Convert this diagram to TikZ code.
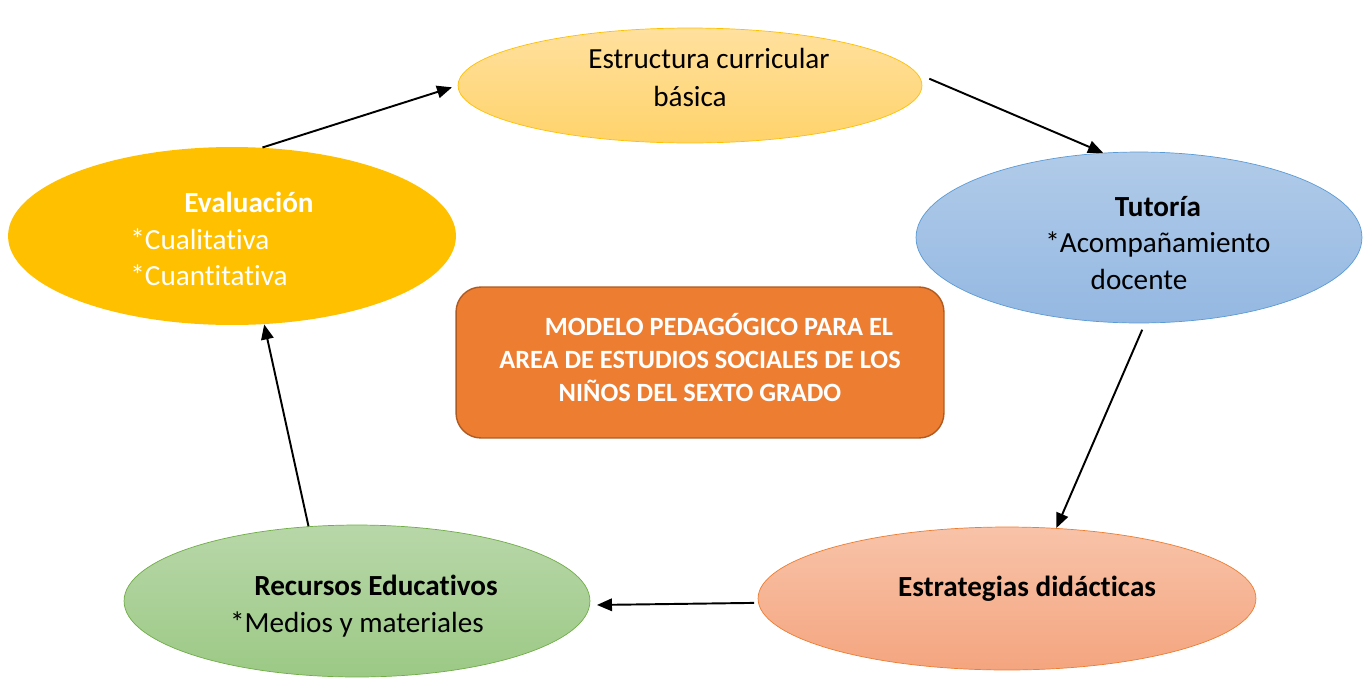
\documentclass[tikz,border=0pt]{standalone}
\usepackage{fontspec}
\setmainfont{Carlito}[Ligatures=NoCommon]
\usepackage{tikz}
\usetikzlibrary{arrows.meta, shapes.geometric}

\definecolor{goldline}{HTML}{FFC000}
\definecolor{goldtop}{HTML}{FFE09E}
\definecolor{goldbot}{HTML}{FFD36B}
\definecolor{bluetop}{HTML}{B1CBE9}
\definecolor{bluebot}{HTML}{94B8E2}
\definecolor{blueline}{HTML}{5B9BD5}
\definecolor{orangefill}{HTML}{ED7D31}
\definecolor{orangeline}{HTML}{AE5A21}
\definecolor{greentop}{HTML}{B8D7A9}
\definecolor{greenbot}{HTML}{9CC985}
\definecolor{greenline}{HTML}{70AD47}
\definecolor{salmontop}{HTML}{F8C3A9}
\definecolor{salmonbot}{HTML}{F4A57F}

\tikzset{
  bubble/.style={ellipse, inner sep=0pt, align=center,
    font=\fontsize{16.6}{20.8}\selectfont},
  flow/.style={-{Triangle[length=0.3cm, width=0.25cm]}, line width=1.1pt, black},
}

\begin{document}
\begin{tikzpicture}[x=0.02cm, y=-0.02cm]
  % canvas in pixel units, y runs downwards
  \useasboundingbox (0,0) rectangle (1367,677);
  \def\pad{\hspace*{0.76cm}}
  % invisible struts: push text up (\lift) or down (\drop)
  \def\lift#1{\rule[-#1]{0pt}{0pt}}
  \def\drop#1{\rule{0pt}{#1}}

  % the five stages round the model
  \node[bubble, minimum width=9.28cm, minimum height=2.3cm,
        top color=goldtop, bottom color=goldbot, draw=goldline]
    (estr) at (690,85.5) {\pad Estructura curricular\\[1pt]básica\lift{9pt}};
  \node[bubble, minimum width=8.92cm, minimum height=3.42cm,
        top color=bluetop, bottom color=bluebot, draw=blueline]
    (tut) at (1139,237.5) {\drop{17.5pt}\pad\textbf{Tutoría}\\\pad *Acompañamiento\\docente};
  \node[bubble, minimum width=9.96cm, minimum height=2.86cm,
        top color=salmontop, bottom color=salmonbot, draw=orangefill,
        text height=0.4cm, text depth=0.49cm]
    (strat) at (1007,598.5) {\hspace*{0.8cm}\textbf{Estrategias didácticas}};
  \node[bubble, minimum width=9.32cm, minimum height=3.04cm,
        top color=greentop, bottom color=greenbot, draw=greenline]
    (rec) at (357,601) {\drop{17.5pt}\pad\textbf{Recursos Educativos}\\*Medios y materiales};
  \node[bubble, minimum width=8.96cm, minimum height=3.56cm, fill=goldline,
        text=white, align=left]
    (eval) at (232,236)
    {\drop{15pt}\hspace*{1.08cm}\textbf{Evaluación}\hspace*{0.4cm}\\*Cualitativa\\*Cuantitativa};

  % central box
  \node[rectangle, rounded corners=0.5cm, minimum width=9.76cm, minimum height=3.02cm,
        fill=orangefill, draw=orangeline, line width=0.8pt, text=white, align=center,
        font=\fontsize{15}{18.8}\selectfont\bfseries]
    (core) at (700,362.5)
    {\pad MODELO PEDAGÓGICO PARA EL\\AREA DE ESTUDIOS SOCIALES DE LOS\\NIÑOS DEL SEXTO GRADO\lift{5.7pt}};

  % cycle of arrows
  \draw[flow, shorten >=0.12cm] (eval.71) -- (estr.west);
  \draw[flow, shorten <=0.26cm] (estr.3) -- (tut.113);
  \draw[flow, shorten <=0.14cm] (tut.274) -- (strat.55);
  \draw[flow, shorten <=0.08cm, shorten >=0.14cm] (strat.181) -- (rec.359);
  \draw[flow] (rec.123) -- (eval.290);
\end{tikzpicture}
\end{document}
